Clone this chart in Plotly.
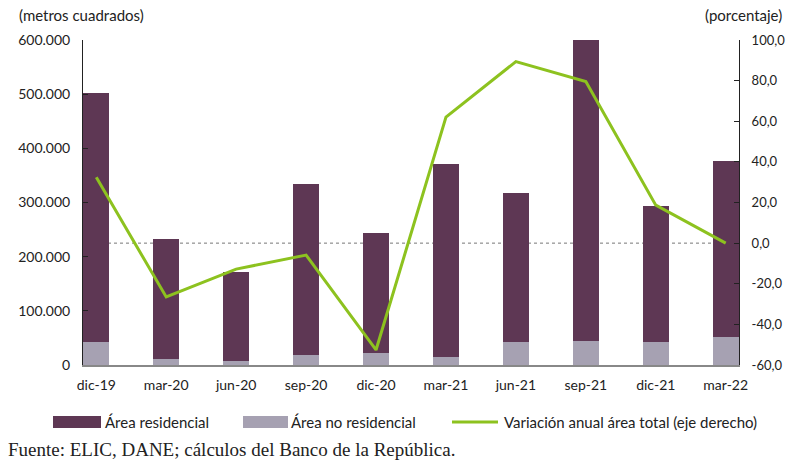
import plotly.graph_objects as go

categories = ["dic-19", "mar-20", "jun-20", "sep-20", "dic-20", "mar-21", "jun-21", "sep-21", "dic-21", "mar-22"]
total_area = [503000, 233000, 171000, 335000, 244000, 372000, 318000, 601000, 294000, 376000]
area_no_residencial = [43000, 11000, 7000, 19000, 22000, 15000, 43000, 45000, 43000, 52000]
area_residencial = [t - n for t, n in zip(total_area, area_no_residencial)]
variacion_anual = [32.4, -26.5, -12.8, -5.9, -52.6, 62.0, 89.4, 79.6, 18.7, 0.0]

left_ticks = [0, 100000, 200000, 300000, 400000, 500000, 600000]
left_ticktext = ["0", "100.000", "200.000", "300.000", "400.000", "500.000", "600.000"]
right_ticks = [-60, -40, -20, 0, 20, 40, 60, 80, 100]
right_ticktext = ["-60,0", "-40,0", "-20,0", "0,0", "20,0", "40,0", "60,0", "80,0", "100,0"]

legend_names = ["Área residencial", "Área no residencial", "Variación anual área total (eje derecho)"]
col_res = "#5E3754"
col_nores = "#A6A1B2"
col_line = "#8DC21F"

font_main = "Lato, 'Open Sans', sans-serif"
x = list(range(len(categories)))

fig = go.Figure()
fig.add_trace(go.Bar(x=x, y=area_no_residencial, name=legend_names[1],
                     marker=dict(color=col_nores, line=dict(width=0)), width=0.37,
                     showlegend=False))
fig.add_trace(go.Bar(x=x, y=area_residencial, name=legend_names[0],
                     marker=dict(color=col_res, line=dict(width=0)), width=0.37,
                     showlegend=False))
fig.add_trace(go.Scatter(x=x, y=variacion_anual, name=legend_names[2],
                         yaxis="y2", mode="lines", line=dict(color=col_line, width=3),
                         showlegend=False))

W, H = 788, 460
ML, MR, MT, MB = 83, 49, 40, 95
pw, ph = W - ML - MR, H - MT - MB


def px(xp):
    return (xp - ML) / pw


def py(yp):
    return (H - MB - yp) / ph


shapes = [dict(type="line", xref="paper", yref="y2", x0=px(90), x1=1, y0=0, y1=0,
               line=dict(color="#777", width=1, dash="dot"), layer="below")]
annotations = [
    dict(text="(metros cuadrados)", xref="paper", yref="paper", x=px(17), y=py(15),
         xanchor="left", yanchor="middle", showarrow=False, font=dict(size=15)),
    dict(text="(porcentaje)", xref="paper", yref="paper", x=px(784), y=py(15),
         xanchor="right", yanchor="middle", showarrow=False, font=dict(size=15)),
    dict(text="Fuente: ELIC, DANE; cálculos del Banco de la República.", xref="paper",
         yref="paper", x=px(6), y=py(449), xanchor="left", yanchor="middle",
         showarrow=False, font=dict(size=19, family="'Liberation Serif', 'DejaVu Serif', serif")),
]

# custom legend
leg_y = 422
shapes.append(dict(type="rect", xref="paper", yref="paper", x0=px(53), x1=px(101),
                   y0=py(428), y1=py(416), fillcolor=col_res, line=dict(width=0)))
shapes.append(dict(type="rect", xref="paper", yref="paper", x0=px(243), x1=px(288),
                   y0=py(428), y1=py(416), fillcolor=col_nores, line=dict(width=0)))
shapes.append(dict(type="line", xref="paper", yref="paper", x0=px(452), x1=px(498),
                   y0=py(leg_y), y1=py(leg_y), line=dict(color=col_line, width=3)))
for xs, name in zip([103, 289, 502], legend_names):
    annotations.append(dict(text=name, xref="paper", yref="paper", x=px(xs), y=py(leg_y),
                            xanchor="left", yanchor="middle", showarrow=False,
                            font=dict(size=15)))

fig.update_layout(
    width=W, height=H,
    barmode="stack",
    plot_bgcolor="white", paper_bgcolor="white",
    margin=dict(l=ML, r=MR, t=MT, b=MB),
    font=dict(family=font_main, size=13, color="#222"),
    showlegend=False,
    xaxis=dict(range=[-0.19, 9.19], tickmode="array", tickvals=x, ticktext=categories,
               showline=True, linecolor="#888", linewidth=1.5, ticks="", showgrid=False,
               zeroline=False, tickfont=dict(size=14), ticklabelstandoff=6, automargin=False),
    yaxis=dict(range=[0, 600000], tickmode="array", tickvals=left_ticks, ticktext=left_ticktext,
               showline=True, linecolor="#222", linewidth=1, ticks="inside", ticklen=5,
               tickcolor="#222", showgrid=False, zeroline=False, tickfont=dict(size=14),
               ticklabelstandoff=9, automargin=False),
    yaxis2=dict(range=[-60, 100], overlaying="y", side="right", tickmode="array",
                tickvals=right_ticks, ticktext=right_ticktext, showline=True, linecolor="#222",
                linewidth=1, ticks="inside", ticklen=5, tickcolor="#222", showgrid=False,
                zeroline=False, tickfont=dict(size=13), ticklabelstandoff=9, automargin=False),
    shapes=shapes,
    annotations=annotations,
)

fig.write_html("out.html", config={"displayModeBar": False},
               post_script="document.body.style.margin='0';")
